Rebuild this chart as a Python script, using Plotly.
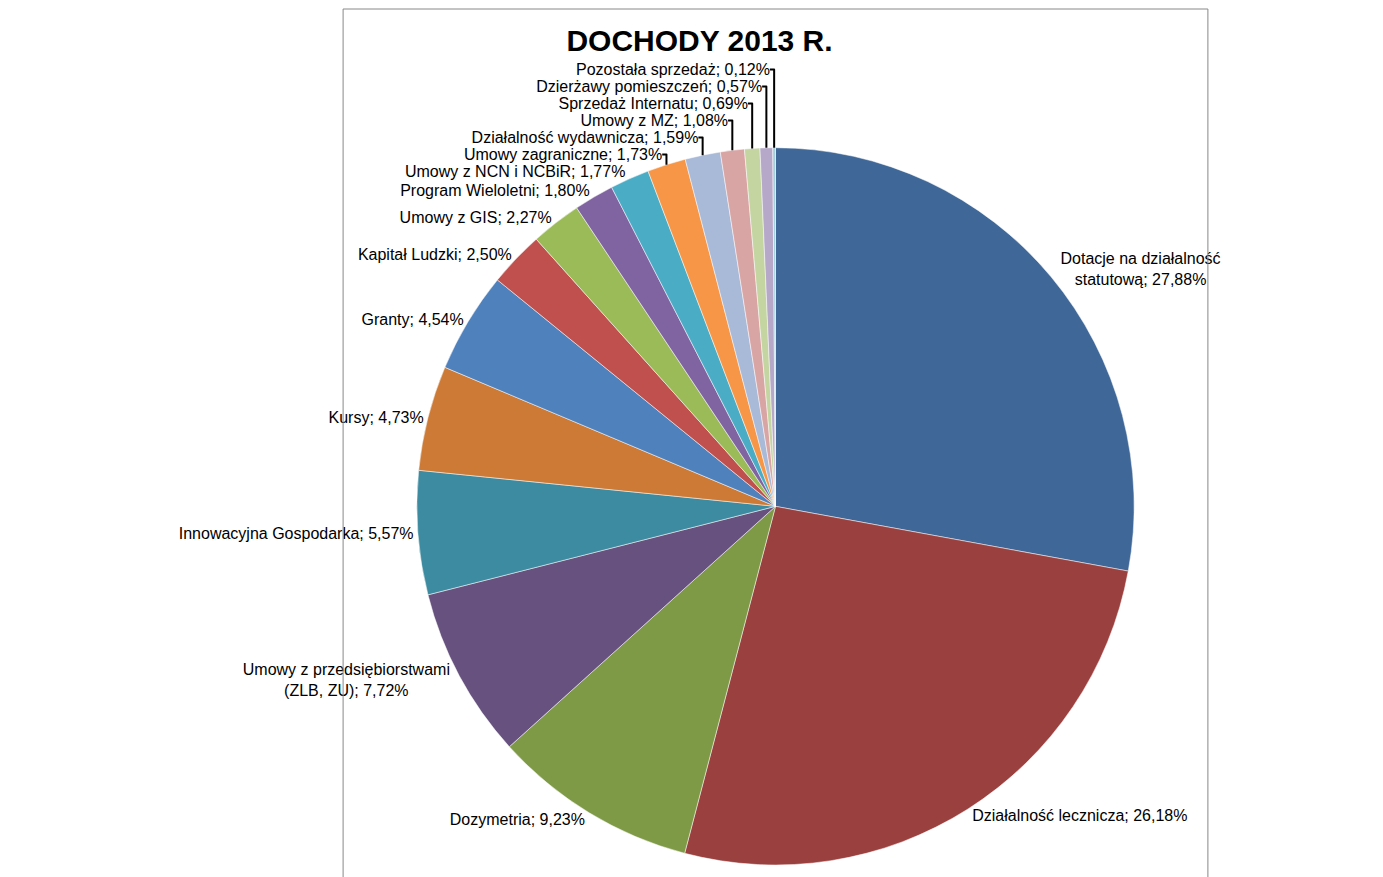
import plotly.graph_objects as go

labels = [
    "Dotacje na działalność<br>statutową", "Działalność lecznicza", "Dozymetria",
    "Umowy z przedsiębiorstwami<br>(ZLB, ZU)", "Innowacyjna Gospodarka", "Kursy", "Granty",
    "Kapitał Ludzki", "Umowy z GIS", "Program Wieloletni", "Umowy z NCN i NCBiR",
    "Umowy zagraniczne", "Działalność wydawnicza", "Umowy z MZ", "Sprzedaż Internatu",
    "Dzierżawy pomieszczeń", "Pozostała sprzedaż",
]
values = [27.88, 26.18, 9.23, 7.72, 5.57, 4.73, 4.54, 2.50, 2.27, 1.80, 1.77,
          1.73, 1.59, 1.08, 0.69, 0.57, 0.12]
colors = ["#3F6797", "#9A403E", "#7E9A46", "#67517F", "#3C8BA0", "#CC7A35",
          "#4F81BD", "#C0504D", "#9BBB59", "#8064A2", "#4BACC6", "#F79646",
          "#A9B9D8", "#D9A5A4", "#C4D5A2", "#B6A8C9", "#A4CFDC"]

fig = go.Figure(go.Pie(
    labels=labels, values=values, sort=False, direction="clockwise", rotation=0,
    marker=dict(colors=colors, line=dict(color="white", width=0.5)),
    texttemplate="%{label}; %{value:.2f}%", textposition="outside",
    textfont=dict(size=16, color="black", family="Liberation Sans"),
    showlegend=False, automargin=True, domain=dict(x=[0, 1], y=[0, 0.9]),
))
fig.update_layout(
    width=1383, height=877, separators=", ",
    paper_bgcolor="white", margin=dict(l=20, r=20, t=60, b=20),
    title=dict(text="<b>DOCHODY 2013 R.</b>", x=0.5, y=0.975, xanchor="center",
               font=dict(size=30, color="black", family="Liberation Sans")),
    shapes=[dict(type="rect", xref="paper", yref="paper",
                 x0=-19 / 1343, y0=-19 / 797, x1=1 + 19 / 1343, y1=1 + 59 / 797,
                 line=dict(color="#888888", width=1))],
)
fig.write_html("out.html")
